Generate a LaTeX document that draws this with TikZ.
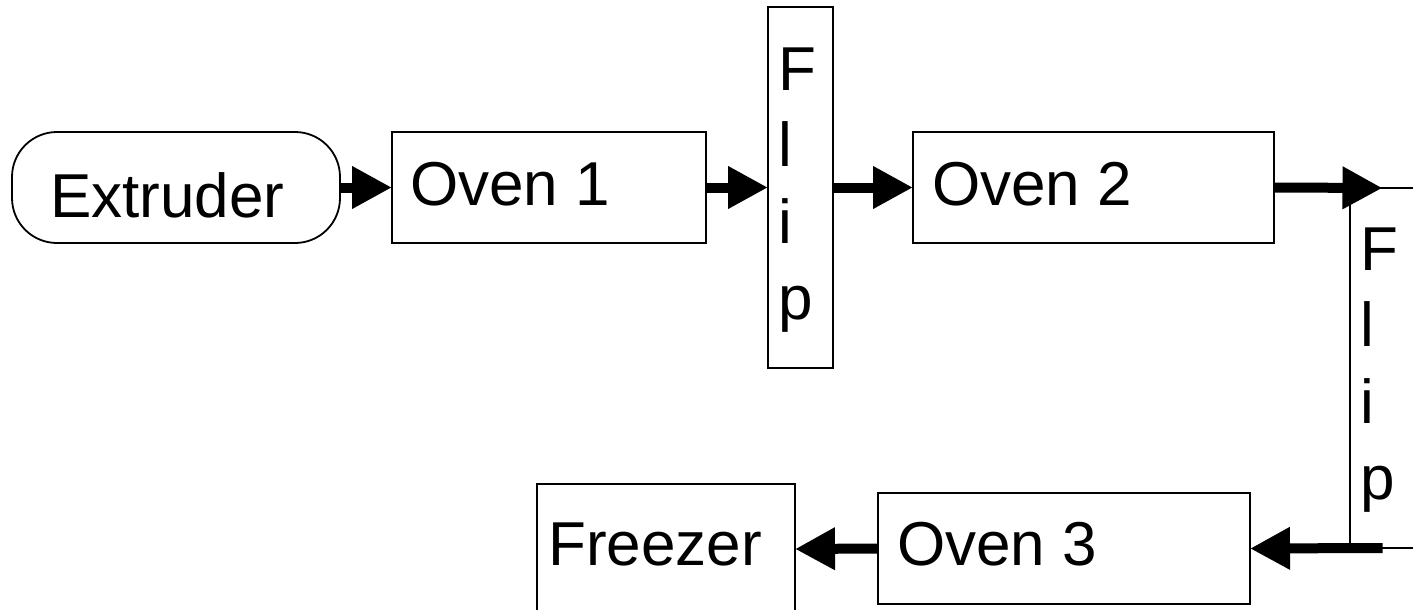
\documentclass[tikz,border=0pt]{standalone}
\usepackage{fontspec}
\setmainfont{Liberation Sans}
\usetikzlibrary{arrows.meta,calc}
\begin{document}
\begin{tikzpicture}[x=1pt,y=-1pt,
  box/.style={draw=black, line width=1.8pt, inner sep=0pt, outer sep=0pt, anchor=north west},
  lbl/.style={inner sep=0pt, anchor=base west, font=\fontsize{62}{76.5}\selectfont},
  flow/.style={line width=10pt, -{Triangle[length=40pt,width=40pt]}}]
\useasboundingbox (0,0) rectangle (1413,610);

% process stations
\node[box, minimum width=328pt, minimum height=111pt, rounded corners=45pt] (extruder) at (12,132) {};
\node[box, minimum width=314pt, minimum height=111pt] (oven1) at (392,132) {};
\node[box, minimum width=65pt, minimum height=361pt] (flip1) at (768,7) {};
\node[box, minimum width=361pt, minimum height=111pt] (oven2) at (913,132) {};
\node[box, minimum width=65pt, minimum height=360pt] (flip2) at (1350,188) {};
\node[box, minimum width=372pt, minimum height=111pt] (oven3) at (878,493) {};
\node[box, minimum width=258pt, minimum height=130pt] (freezer) at (537,484) {};

% station names
\node[lbl] (extruder-text) at ($(extruder.north west)+(38,85)$) {Extruder};
\node[lbl] (oven1-text) at ($(oven1.north west)+(18,73)$) {Oven 1};
\node[lbl] (flip1-text) at ($(flip1.north west)+(10,83)$) {\vtop{\hbox{F}\hbox{l}\hbox{i}\hbox{p}}};
\node[lbl] (oven2-text) at ($(oven2.north west)+(19,73)$) {Oven 2};
\node[lbl] (flip2-text) at ($(flip2.north west)+(10,82)$) {\vtop{\hbox{F}\hbox{l}\hbox{i}\hbox{p}}};
\node[lbl] (oven3-text) at ($(oven3.north west)+(19,72)$) {Oven 3};
\node[lbl] (freezer-text) at ($(freezer.north west)+(11,81)$) {Freezer};

% material flow
\draw[flow] (extruder.east) -- (oven1.west);
\draw[flow] (oven1.east) -- (flip1.west);
\draw[flow] (flip1.east) -- (oven2.west);
\draw[flow] (oven2.east) -- (flip2.north);
\draw[flow] (flip2.south) -- (oven3.east);
\draw[flow] (oven3.west) -- (freezer.east);
\end{tikzpicture}
\end{document}
